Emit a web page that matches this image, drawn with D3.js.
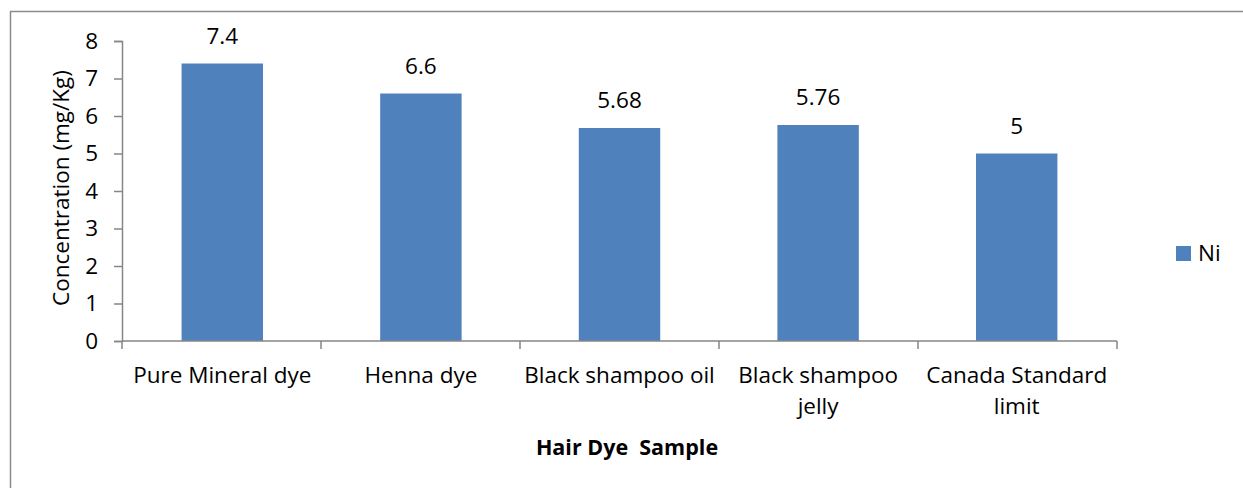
<!DOCTYPE html>
<html>
<head>
<meta charset="utf-8">
<script src="https://cdn.jsdelivr.net/npm/d3@7"></script>
<style>
  html, body { margin: 0; padding: 0; background: #fff; }
  svg text { font-family: "Open Sans", sans-serif; fill: #000; }
</style>
</head>
<body>
<svg id="chart" width="1243" height="488"></svg>
<script>
// Nickel concentration by hair dye sample
const categories = [
  ["Pure Mineral dye"],
  ["Henna dye"],
  ["Black shampoo oil"],
  ["Black shampoo", "jelly"],
  ["Canada Standard", "limit"]
];
const niValues = [7.4, 6.6, 5.68, 5.76, 5];
const yTicks = [0, 1, 2, 3, 4, 5, 6, 7, 8];
const seriesName = "Ni";
const yTitle = "Concentration (mg/Kg)";
const xTitle = "Hair Dye  Sample";

const FONT = "'Open Sans', sans-serif";
const FS = 22.5;

const svg = d3.select("#chart");
const barColor = "#4f81bd";
const axisColor = "#868686";

// outer frame
svg.append("rect")
  .attr("x", 10.5).attr("y", 11.5)
  .attr("width", 1260).attr("height", 500)
  .attr("fill", "none").attr("stroke", "#8c8c8c").attr("stroke-width", 1.5);

const plot = { left: 122, right: 1117, top: 41, bottom: 341 };

const x = d3.scaleBand()
  .domain(d3.range(categories.length))
  .range([plot.left, plot.right])
  .paddingInner(0.59)
  .paddingOuter(0.3);

const y = d3.scaleLinear().domain([0, 8]).range([plot.bottom, plot.top]);

// bars
svg.append("g").selectAll("rect")
  .data(niValues)
  .join("rect")
  .attr("x", (d, i) => x(i))
  .attr("y", d => y(d))
  .attr("width", x.bandwidth())
  .attr("height", d => y(0) - y(d))
  .attr("fill", barColor);

// value labels
svg.append("g").selectAll("text")
  .data(niValues)
  .join("text")
  .attr("x", (d, i) => x(i) + x.bandwidth() / 2)
  .attr("y", d => y(d) - 20)
  .attr("text-anchor", "middle")
  .attr("font-size", FS)
  .text(d => d);

// y axis
const yAxis = svg.append("g")
  .attr("transform", `translate(${plot.left},0)`)
  .call(d3.axisLeft(y).tickValues(yTicks).tickSize(8).tickPadding(16).tickFormat(d3.format("d")));
yAxis.select(".domain").attr("stroke", axisColor).attr("stroke-width", 1.5);
yAxis.selectAll(".tick line").attr("stroke", axisColor).attr("stroke-width", 1.5);
yAxis.selectAll(".tick text").attr("font-size", FS).attr("font-family", FONT).attr("fill", "#000");

// x axis: category boundaries as tick marks
const bounds = d3.range(categories.length + 1).map(i => plot.left + i * (plot.right - plot.left) / categories.length);
const xg = svg.append("g");
xg.append("line")
  .attr("x1", plot.left).attr("x2", plot.right)
  .attr("y1", plot.bottom).attr("y2", plot.bottom)
  .attr("stroke", axisColor).attr("stroke-width", 1.5);
xg.selectAll("line.tk")
  .data(bounds)
  .join("line")
  .attr("class", "tk")
  .attr("x1", d => d).attr("x2", d => d)
  .attr("y1", plot.bottom).attr("y2", plot.bottom + 8)
  .attr("stroke", axisColor).attr("stroke-width", 1.5);

// category labels
const lbl = xg.selectAll("text.cat")
  .data(categories)
  .join("text")
  .attr("class", "cat")
  .attr("text-anchor", "middle")
  .attr("font-size", FS)
  .attr("x", (d, i) => x(i) + x.bandwidth() / 2)
  .attr("y", 383);
lbl.selectAll("tspan")
  .data(d => d)
  .join("tspan")
  .attr("x", function() { return this.parentNode.getAttribute("x"); })
  .attr("dy", (d, j) => j === 0 ? 0 : 31)
  .text(d => d);

// axis titles
svg.append("text")
  .attr("transform", `translate(69,188) rotate(-90)`)
  .attr("text-anchor", "middle")
  .attr("font-size", FS)
  .text(yTitle);

svg.append("text")
  .attr("x", 627).attr("y", 455)
  .attr("text-anchor", "middle")
  .attr("font-size", 21.5)
  .attr("font-weight", "bold")
  .attr("xml:space", "preserve")
  .style("white-space", "pre")
  .text(xTitle);

// legend
const lg = svg.append("g");
lg.append("rect")
  .attr("x", 1176).attr("y", 246).attr("width", 15).attr("height", 15)
  .attr("fill", barColor);
lg.append("text")
  .attr("x", 1198).attr("y", 261)
  .attr("font-size", FS)
  .text(seriesName);
</script>
</body>
</html>
